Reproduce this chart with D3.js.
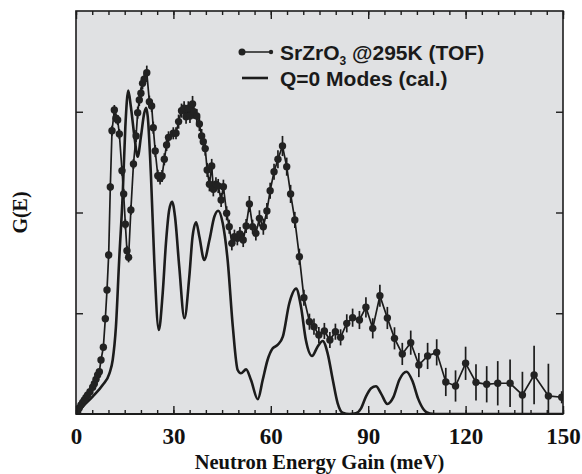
<!DOCTYPE html>
<html>
<head>
<meta charset="utf-8">
<script src="https://cdn.jsdelivr.net/npm/d3@7"></script>
<style>
  html, body { margin: 0; padding: 0; background: #ffffff; }
  svg { display: block; }
</style>
</head>
<body>
<svg id="chart" width="582" height="474"></svg>
<script>
// Measured spectrum of SrZrO3 at 295 K (time-of-flight), energy in meV
const expEnergy = [0.2, 0.51, 1.0, 1.54, 2.05, 2.57, 3.08, 3.59, 4.31, 5.13, 5.65, 6.16, 6.67, 7.19, 7.7, 8.42,
  9.03, 9.55, 10.06, 10.57, 11.09, 11.81, 12.32, 12.83, 13.35, 14.17, 14.68, 15.2, 15.7, 16.2, 16.9, 17.7,
  18.5, 19.0, 19.5, 20.0, 20.5, 21.0, 21.8, 22.6, 23.3, 23.8, 24.4, 25.2, 25.9, 26.5, 27.2, 27.9, 28.5,
  29.97, 30.8, 31.6, 32.5, 33.3, 33.9, 34.6, 35.1, 35.9, 36.3, 37.2, 38.0, 38.7, 39.2, 39.8, 40.4, 41.1,
  41.8, 42.3, 43.1, 43.8, 44.7, 45.4, 46.4, 47.2, 48.0, 48.8, 49.7, 50.5, 51.5, 52.4, 53.4, 54.4, 55.4,
  56.5, 57.7, 58.8, 59.8, 61.0, 62.2, 63.6, 64.9, 66.1, 67.4, 68.8, 70.2, 71.9, 73.3, 74.8, 76.5, 78.2,
  79.9, 81.5, 83.4, 85.2, 87.3, 89.3, 91.4, 93.6, 95.9, 98.1, 100.5, 103.1, 105.6, 108.3, 111.1, 113.9,
  116.9, 120.0, 123.2, 126.5, 129.9, 133.7, 137.5, 141.1, 145.5, 149.6];
const expG = [0.01, 0.023, 0.06, 0.089, 0.115, 0.139, 0.165, 0.189, 0.222, 0.265, 0.30, 0.344, 0.387, 0.42, 0.536, 0.662,
  0.946, 1.231, 1.578, 2.253, 2.812, 3.017, 2.935, 2.918, 2.779, 2.415, 2.184, 1.883, 1.621, 1.555, 2.025, 2.481,
  2.759, 2.991, 3.117, 3.183, 3.282, 3.322, 3.388, 3.10, 3.057, 2.842, 2.61, 2.365, 2.339, 2.362, 2.528, 2.67, 2.746,
  2.786, 2.786, 2.902, 3.011, 3.034, 2.951, 3.034, 2.958, 3.077, 3.0, 2.958, 2.878, 2.759, 2.703, 2.634, 2.422, 2.28,
  2.462, 2.23, 2.28, 2.263, 2.124, 2.256, 1.992, 1.859, 1.694, 1.76, 1.744, 1.787, 1.727, 1.866, 2.084, 1.859, 1.793,
  1.942, 1.859, 2.015, 2.216, 2.405, 2.528, 2.66, 2.455, 2.184, 1.926, 1.561, 1.154, 0.916, 0.867, 0.784, 0.824, 0.734,
  0.817, 0.761, 0.9, 0.956, 0.933, 1.059, 0.85, 1.174, 0.953, 0.751, 0.596, 0.708, 0.486, 0.576, 0.612, 0.318,
  0.278, 0.503, 0.314, 0.295, 0.305, 0.305, 0.189, 0.387, 0.179, 0.166];
const expErr = [0.02, 0.02, 0.02, 0.02, 0.02, 0.02, 0.02, 0.02, 0.02, 0.02, 0.02, 0.02, 0.02, 0.02, 0.02, 0.03,
  0.03, 0.03, 0.04, 0.04, 0.05, 0.05, 0.05, 0.05, 0.05, 0.05, 0.05, 0.05, 0.05, 0.05, 0.05, 0.05,
  0.06, 0.06, 0.06, 0.06, 0.06, 0.06, 0.07, 0.06, 0.06, 0.06, 0.06, 0.06, 0.06, 0.06, 0.06, 0.06, 0.06,
  0.06, 0.06, 0.07, 0.07, 0.07, 0.07, 0.07, 0.07, 0.08, 0.07, 0.07, 0.07, 0.07, 0.07, 0.07, 0.07, 0.07,
  0.07, 0.07, 0.07, 0.07, 0.07, 0.07, 0.07, 0.07, 0.07, 0.07, 0.07, 0.07, 0.07, 0.07, 0.08, 0.07, 0.07,
  0.08, 0.08, 0.08, 0.08, 0.08, 0.09, 0.1, 0.09, 0.09, 0.08, 0.08, 0.08, 0.08, 0.08, 0.08, 0.08, 0.08,
  0.08, 0.08, 0.09, 0.09, 0.09, 0.1, 0.1, 0.11, 0.11, 0.11, 0.11, 0.12, 0.12, 0.13, 0.13, 0.14,
  0.155, 0.165, 0.18, 0.18, 0.22, 0.235, 0.23, 0.29, 0.32, 0.06];

// Calculated zone-centre (Q=0) phonon density of states
const calcEnergy = [0, 2.05, 5.13, 8.2, 10.3, 11.3, 12.3, 13.3, 14.4, 15.2, 16.1, 16.9, 18.0, 19.0, 20.0, 21.0,
  21.6, 22.1, 23.1, 24.1, 25.5, 26.7, 27.7, 28.7, 29.6, 30.5, 31.8, 33.4, 34.9, 35.9, 37.0, 38.0, 39.5,
  41.1, 42.6, 43.8, 45.2, 46.7, 48.3, 49.8, 50.8, 52.4, 53.9, 56.0, 57.5, 59.0, 60.6, 62.1, 63.7, 65.7,
  67.8, 69.3, 70.8, 72.7, 74.4, 76.0, 77.5, 79.1, 80.6, 82.1, 84.2, 86.2, 87.8, 89.3, 90.9, 92.4, 94.0,
  95.9, 97.8, 99.6, 101.8, 103.6, 105.4, 107.2, 109.0, 112.0, 150.0];
const calcG = [0, 0.073, 0.172, 0.288, 0.404, 0.536, 0.867, 1.529, 2.19, 2.852, 3.21, 3.05, 2.753, 2.554, 2.753, 2.984,
  3.04, 2.951, 2.355, 1.529, 0.834, 1.198, 1.694, 2.025, 2.107, 1.958, 1.462, 0.95, 1.363, 1.76, 1.902, 1.76, 1.529,
  1.727, 1.958, 2.018, 1.893, 1.529, 0.867, 0.437, 0.404, 0.443, 0.337, 0.146, 0.337, 0.536, 0.652, 0.685, 0.767, 1.099,
  1.244, 1.065, 0.734, 0.576, 0.668, 0.725, 0.602, 0.337, 0.106, 0.013, 0, 0.007, 0.056, 0.172, 0.255, 0.275, 0.2,
  0.1, 0.17, 0.34, 0.42, 0.33, 0.15, 0.04, 0.005, 0, 0];

const xTicks = [0, 30, 60, 90, 120, 150];
const yTicks = [1, 2, 3];
const legendLabels = ["SrZrO", "Q=0 Modes (cal.)"];

const svg = d3.select("#chart");
const W = 582, H = 474;
const margin = { left: 76, right: 19, top: 11, bottom: 60 };
const plotW = W - margin.left - margin.right;
const plotH = H - margin.top - margin.bottom;

const x = d3.scaleLinear().domain([0, 150]).range([margin.left, margin.left + plotW]);
const y = d3.scaleLinear().domain([0, 4]).range([margin.top + plotH, margin.top]);

const ink = "#1c1c1c";
const serif = "'Liberation Serif', 'Times New Roman', serif";
const sans = "'Liberation Sans', Arial, Helvetica, sans-serif";

// plot panel background
svg.append("rect")
  .attr("x", x(0)).attr("y", y(4))
  .attr("width", x(150) - x(0)).attr("height", y(0) - y(4))
  .attr("fill", "#e0e1e3");

svg.append("clipPath").attr("id", "plotClip")
  .append("rect")
  .attr("x", x(0)).attr("y", y(4))
  .attr("width", x(150) - x(0)).attr("height", y(0) - y(4));

const plot = svg.append("g").attr("clip-path", "url(#plotClip)");

// calculated curve
const calcData = calcEnergy.map((e, i) => [e, calcG[i]]);
plot.append("path")
  .datum(calcData)
  .attr("fill", "none")
  .attr("stroke", ink)
  .attr("stroke-width", 2.6)
  .attr("stroke-linejoin", "round")
  .attr("d", d3.line().x(d => x(d[0])).y(d => y(d[1])).curve(d3.curveMonotoneX));

// measured points: connecting line, error bars, markers
const expData = expEnergy.map((e, i) => ({ e, g: expG[i], err: expErr[i] }));
plot.append("path")
  .datum(expData)
  .attr("fill", "none")
  .attr("stroke", ink)
  .attr("stroke-width", 1.7)
  .attr("d", d3.line().x(d => x(d.e)).y(d => y(d.g)));

plot.append("g").selectAll("line")
  .data(expData)
  .join("line")
  .attr("x1", d => x(d.e)).attr("x2", d => x(d.e))
  .attr("y1", d => y(d.g - d.err)).attr("y2", d => y(d.g + d.err))
  .attr("stroke", ink)
  .attr("stroke-width", 1.7);

plot.append("g").selectAll("circle")
  .data(expData)
  .join("circle")
  .attr("cx", d => x(d.e)).attr("cy", d => y(d.g))
  .attr("r", 3.7)
  .attr("fill", "#222222");

// axes with inward ticks on all four sides
function styleAxis(g) {
  g.select(".domain").remove();
  g.selectAll(".tick line").attr("stroke", ink).attr("stroke-width", 1.4);
}
const minorX = d3.range(0, 151, 5);

svg.append("g").attr("transform", `translate(0,${y(0)})`)
  .call(d3.axisBottom(x).tickValues(minorX).tickSize(-4).tickFormat(""))
  .call(styleAxis);
svg.append("g").attr("transform", `translate(0,${y(0)})`)
  .call(d3.axisBottom(x).tickValues(xTicks).tickSize(-8).tickPadding(14).tickFormat(d3.format("d")))
  .call(styleAxis)
  .call(g => g.selectAll("text")
    .attr("font-family", serif).attr("font-weight", "bold")
    .attr("font-size", 23).attr("fill", "#111"));

svg.append("g").attr("transform", `translate(0,${y(4)})`)
  .call(d3.axisTop(x).tickValues(minorX).tickSize(-4).tickFormat(""))
  .call(styleAxis);
svg.append("g").attr("transform", `translate(0,${y(4)})`)
  .call(d3.axisTop(x).tickValues(xTicks).tickSize(-8).tickFormat(""))
  .call(styleAxis);

svg.append("g").attr("transform", `translate(${x(0)},0)`)
  .call(d3.axisLeft(y).tickValues(yTicks).tickSize(-7).tickFormat(""))
  .call(styleAxis);
svg.append("g").attr("transform", `translate(${x(150)},0)`)
  .call(d3.axisRight(y).tickValues(yTicks).tickSize(-7).tickFormat(""))
  .call(styleAxis);

// frame
svg.append("rect")
  .attr("x", x(0)).attr("y", y(4))
  .attr("width", x(150) - x(0)).attr("height", y(0) - y(4))
  .attr("fill", "none").attr("stroke", ink).attr("stroke-width", 1.6);
svg.append("line")
  .attr("x1", x(0)).attr("x2", x(150)).attr("y1", y(0)).attr("y2", y(0))
  .attr("stroke", ink).attr("stroke-width", 2.2);

// axis titles
svg.append("text")
  .attr("x", (x(0) + x(150)) / 2).attr("y", 469)
  .attr("text-anchor", "middle")
  .attr("font-family", serif).attr("font-weight", "bold").attr("font-size", 20.5)
  .attr("fill", "#111")
  .text("Neutron Energy Gain (meV)");

svg.append("text")
  .attr("transform", `translate(27,${(y(0) + y(4)) / 2}) rotate(-90)`)
  .attr("text-anchor", "middle")
  .attr("font-family", serif).attr("font-weight", "bold").attr("font-size", 20)
  .attr("fill", "#111")
  .text("G(E)");

// legend
const leg = svg.append("g");
leg.append("line").attr("x1", 242).attr("x2", 271).attr("y1", 52).attr("y2", 52)
  .attr("stroke", ink).attr("stroke-width", 1.5);
leg.append("circle").attr("cx", 242).attr("cy", 52).attr("r", 3.5).attr("fill", "#222");
leg.append("circle").attr("cx", 271).attr("cy", 52).attr("r", 2.2).attr("fill", "#222");
const t1 = leg.append("text").attr("x", 280).attr("y", 60)
  .attr("font-family", sans).attr("font-weight", "bold").attr("font-size", 21).attr("fill", "#1a1a1a");
t1.append("tspan").text(legendLabels[0]);
t1.append("tspan").attr("font-size", 12).attr("dy", 5).text("3");
t1.append("tspan").attr("dy", -5).text(" @295K (TOF)");

leg.append("line").attr("x1", 242).attr("x2", 268).attr("y1", 78).attr("y2", 78)
  .attr("stroke", ink).attr("stroke-width", 2.6);
leg.append("text").attr("x", 280).attr("y", 86)
  .attr("font-family", sans).attr("font-weight", "bold").attr("font-size", 21).attr("fill", "#1a1a1a")
  .text(legendLabels[1]);
</script>
</body>
</html>
